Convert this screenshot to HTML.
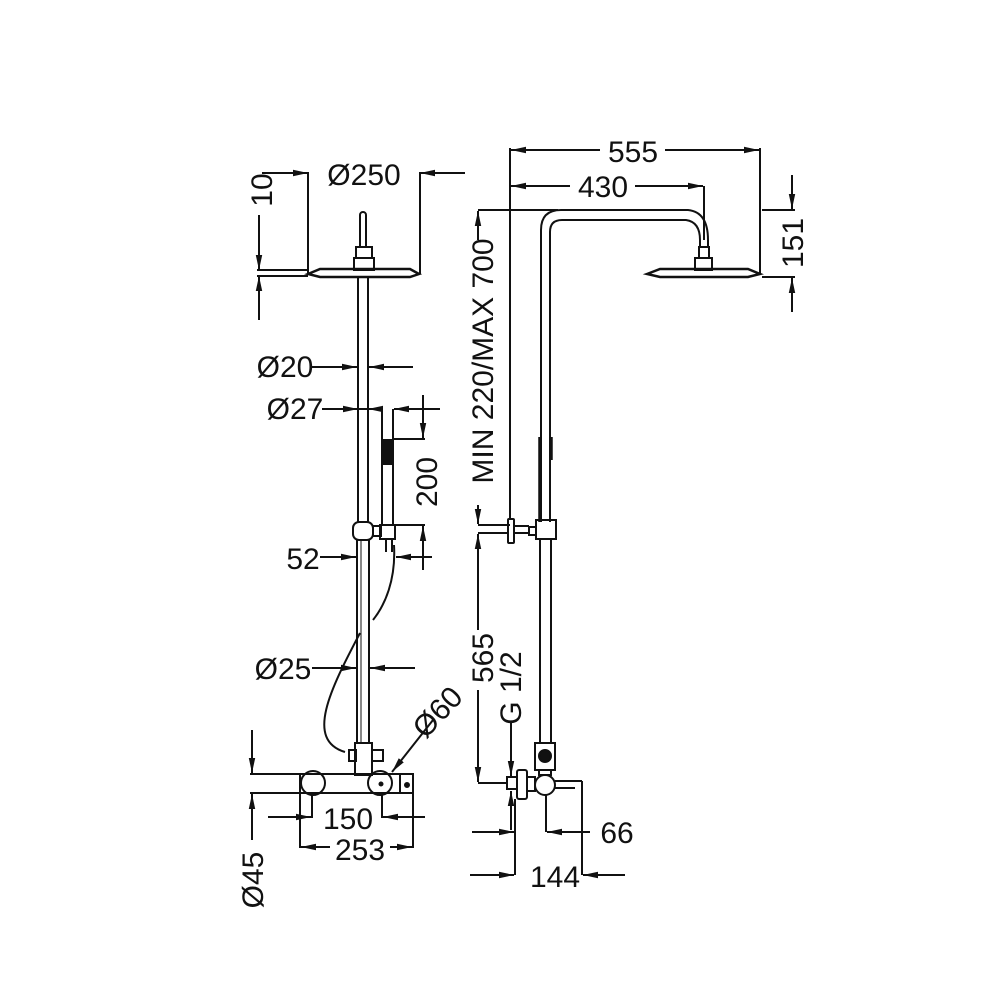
<!DOCTYPE html>
<html><head><meta charset="utf-8"><style>
html,body{margin:0;padding:0;background:#fff}
svg{display:block}
text{font-family:"Liberation Sans",Arial,sans-serif;font-size:30px;fill:#111}
</style></head><body>
<svg width="1000" height="1000" viewBox="0 0 1000 1000" xmlns="http://www.w3.org/2000/svg">
<defs>
<marker id="a" viewBox="0 0 14 6" refX="14" refY="3" markerWidth="15" markerHeight="7" markerUnits="userSpaceOnUse" orient="auto">
<path d="M0,0 L14,3 L0,6 Z" fill="#111"/></marker>
</defs>
<g stroke="#111" stroke-width="2" fill="none">
<!-- LEFT VIEW -->
<path d="M360,247 L360,215 A3,3 0 0 1 366,215 L366,247"/>
<rect x="356" y="247" width="16" height="11"/>
<rect x="354" y="258" width="20" height="12"/>
<path d="M308,274 L320,269 L410,269 L419,274 L410,277 L320,277 Z" stroke-width="2.5"/>
<line x1="358" y1="277" x2="358" y2="522"/>
<line x1="368" y1="277" x2="368" y2="522"/>
<line x1="357" y1="540" x2="357" y2="743"/>
<line x1="369" y1="540" x2="369" y2="743"/>
<line x1="361" y1="540" x2="361" y2="743" stroke-width="1"/>
<line x1="382" y1="409" x2="382" y2="525"/>
<line x1="393" y1="409" x2="393" y2="525"/>
<rect x="383" y="440" width="10" height="24" fill="#111"/>
<rect x="353" y="522" width="20" height="18" rx="6"/>
<rect x="373" y="526" width="8" height="10"/>
<rect x="380" y="525" width="15" height="14"/>
<line x1="386" y1="539" x2="386" y2="552"/>
<line x1="392" y1="539" x2="392" y2="552"/>
<path d="M394,545 C396,580 385,605 373,620"/>
<path d="M360,633 C330,690 305,740 345,752"/>
<rect x="355" y="743" width="17" height="32"/>
<rect x="349" y="750" width="7" height="11"/>
<rect x="372" y="750" width="11" height="11"/>
<rect x="300" y="774" width="113" height="19"/>
<line x1="400" y1="774" x2="400" y2="793"/>
<circle cx="313" cy="783" r="12"/>
<circle cx="380" cy="783" r="12"/>
<circle cx="381" cy="784" r="1.5" fill="#111"/>
<circle cx="407" cy="785" r="2" fill="#111"/>
<!-- dims left -->
<line x1="308" y1="172" x2="308" y2="274"/>
<line x1="420" y1="172" x2="420" y2="274"/>
<line x1="262" y1="173" x2="308" y2="173" marker-end="url(#a)"/>
<line x1="465" y1="173" x2="420" y2="173" marker-end="url(#a)"/>
<line x1="257" y1="270" x2="308" y2="270"/>
<line x1="257" y1="276" x2="308" y2="276"/>
<line x1="259" y1="215" x2="259" y2="270" marker-end="url(#a)"/>
<line x1="259" y1="320" x2="259" y2="276" marker-end="url(#a)"/>
<line x1="312" y1="367" x2="357" y2="367" marker-end="url(#a)"/>
<line x1="413" y1="367" x2="369" y2="367" marker-end="url(#a)"/>
<line x1="322" y1="409" x2="358" y2="409" marker-end="url(#a)"/>
<line x1="358" y1="409" x2="380" y2="409"/>
<line x1="380" y1="409" x2="368" y2="409" marker-end="url(#a)"/>
<line x1="440" y1="409" x2="394" y2="409" marker-end="url(#a)"/>
<line x1="394" y1="439" x2="425" y2="439"/>
<line x1="423" y1="395" x2="423" y2="438" marker-end="url(#a)"/>
<line x1="395" y1="525" x2="425" y2="525"/>
<line x1="423" y1="570" x2="423" y2="526" marker-end="url(#a)"/>
<line x1="320" y1="557" x2="356" y2="557" marker-end="url(#a)"/>
<line x1="432" y1="557" x2="396" y2="557" marker-end="url(#a)"/>
<line x1="312" y1="668" x2="356" y2="668" marker-end="url(#a)"/>
<line x1="415" y1="668" x2="370" y2="668" marker-end="url(#a)"/>
<line x1="433" y1="720" x2="392" y2="772" marker-end="url(#a)"/>
<line x1="250" y1="774" x2="300" y2="774"/>
<line x1="250" y1="793" x2="300" y2="793"/>
<line x1="252" y1="730" x2="252" y2="773" marker-end="url(#a)"/>
<line x1="252" y1="840" x2="252" y2="794" marker-end="url(#a)"/>
<line x1="312" y1="795" x2="312" y2="818"/>
<line x1="382" y1="795" x2="382" y2="818"/>
<line x1="268" y1="817" x2="311" y2="817" marker-end="url(#a)"/>
<line x1="425" y1="817" x2="383" y2="817" marker-end="url(#a)"/>
<line x1="300" y1="793" x2="300" y2="848"/>
<line x1="413" y1="793" x2="413" y2="848"/>
<line x1="330" y1="847" x2="301" y2="847" marker-end="url(#a)"/>
<line x1="390" y1="847" x2="412" y2="847" marker-end="url(#a)"/>

<!-- RIGHT VIEW -->
<path d="M541,522 L541,230 Q541,210 561,210 L688,210 Q708,212 708,240 L708,247"/>
<path d="M550,522 L550,232 Q550,220 562,220 L686,220 Q700,222 700,240 L700,247"/>
<rect x="699" y="247" width="10" height="11"/>
<rect x="695" y="258" width="17" height="12"/>
<path d="M647,274 L660,269 L748,269 L760,274 L748,277 L660,277 Z" stroke-width="2.5"/>
<line x1="540" y1="437" x2="540" y2="522" stroke-width="3.5"/>
<line x1="551" y1="437" x2="551" y2="460" stroke-width="3.5"/>
<rect x="536" y="520" width="20" height="19"/>
<rect x="529" y="527" width="7" height="8"/>
<line x1="514" y1="526" x2="529" y2="526"/>
<line x1="514" y1="533" x2="529" y2="533"/>
<rect x="508" y="519" width="6" height="24" rx="1"/>
<line x1="540" y1="539" x2="540" y2="743"/>
<line x1="551" y1="539" x2="551" y2="743"/>
<rect x="535" y="743" width="20" height="27"/>
<circle cx="545" cy="756" r="6" fill="#111"/>
<rect x="539" y="770" width="12" height="5"/>
<circle cx="545" cy="785" r="10"/>
<line x1="555" y1="781" x2="582" y2="781"/>
<line x1="555" y1="788" x2="575" y2="788"/>
<line x1="582" y1="781" x2="582" y2="875"/>
<line x1="546" y1="795" x2="546" y2="832"/>
<rect x="507" y="777" width="10" height="12"/>
<rect x="517" y="770" width="10" height="29" rx="2"/>
<rect x="527" y="777" width="8" height="14"/>
<line x1="515" y1="799" x2="515" y2="875"/>
<line x1="510" y1="148" x2="510" y2="520"/>
<line x1="760" y1="148" x2="760" y2="274"/>
<line x1="600" y1="150" x2="511" y2="150" marker-end="url(#a)"/>
<line x1="665" y1="150" x2="759" y2="150" marker-end="url(#a)"/>
<line x1="570" y1="186" x2="511" y2="186" marker-end="url(#a)"/>
<line x1="635" y1="186" x2="703" y2="186" marker-end="url(#a)"/>
<line x1="704" y1="186" x2="704" y2="240"/>
<line x1="762" y1="210" x2="795" y2="210"/>
<line x1="762" y1="277" x2="795" y2="277"/>
<line x1="792" y1="175" x2="792" y2="209" marker-end="url(#a)"/>
<line x1="792" y1="312" x2="792" y2="278" marker-end="url(#a)"/>
<line x1="478" y1="210" x2="558" y2="210"/>
<line x1="478" y1="240" x2="478" y2="211" marker-end="url(#a)"/>
<line x1="478" y1="505" x2="478" y2="524" marker-end="url(#a)"/>
<line x1="478" y1="525" x2="510" y2="525"/>
<line x1="478" y1="533" x2="508" y2="533"/>
<line x1="478" y1="630" x2="478" y2="534" marker-end="url(#a)"/>
<line x1="478" y1="690" x2="478" y2="782" marker-end="url(#a)"/>
<line x1="478" y1="783" x2="508" y2="783"/>
<line x1="511" y1="722" x2="511" y2="776" marker-end="url(#a)"/>
<line x1="511" y1="830" x2="511" y2="791" marker-end="url(#a)"/>
<line x1="472" y1="832" x2="514" y2="832" marker-end="url(#a)"/>
<line x1="590" y1="832" x2="547" y2="832" marker-end="url(#a)"/>
<line x1="470" y1="875" x2="514" y2="875" marker-end="url(#a)"/>
<line x1="625" y1="875" x2="583" y2="875" marker-end="url(#a)"/>
</g>
<g>
<text x="364" y="185" text-anchor="middle">Ø250</text>
<text transform="translate(272,190) rotate(-90)" text-anchor="middle">10</text>
<text x="285" y="377" text-anchor="middle">Ø20</text>
<text x="295" y="419" text-anchor="middle">Ø27</text>
<text transform="translate(437,482) rotate(-90)" text-anchor="middle">200</text>
<text x="303" y="569" text-anchor="middle">52</text>
<text x="283" y="679" text-anchor="middle">Ø25</text>
<text transform="translate(445,719) rotate(-47)" text-anchor="middle">Ø60</text>
<text x="348" y="829" text-anchor="middle">150</text>
<text x="360" y="860" text-anchor="middle">253</text>
<text transform="translate(263,880) rotate(-90)" text-anchor="middle">Ø45</text>
<text x="633" y="162" text-anchor="middle">555</text>
<text x="603" y="197" text-anchor="middle">430</text>
<text transform="translate(803,243) rotate(-90)" text-anchor="middle">151</text>
<text transform="translate(493,361) rotate(-90)" text-anchor="middle">MIN 220/MAX 700</text>
<text transform="translate(493,658) rotate(-90)" text-anchor="middle">565</text>
<text transform="translate(521,688) rotate(-90)" text-anchor="middle">G 1/2</text>
<text x="617" y="843" text-anchor="middle">66</text>
<text x="555" y="887" text-anchor="middle">144</text>
</g>
</svg>
</body></html>
